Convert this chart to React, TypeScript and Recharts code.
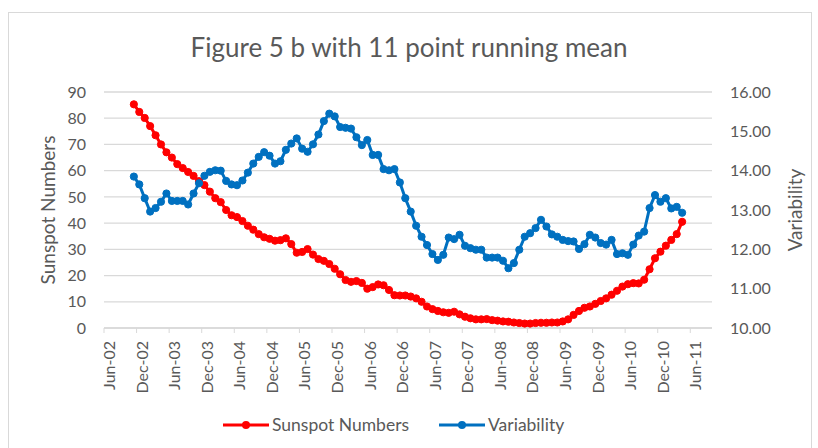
import React from 'react';
import {
  LineChart,
  Line,
  XAxis,
  YAxis,
  CartesianGrid,
} from 'recharts';

// x ticks: every 6 months starting Jun-02 (index 0 = Jun-02)
const tickLabels = [
  'Jun-02', 'Dec-02', 'Jun-03', 'Dec-03', 'Jun-04', 'Dec-04', 'Jun-05', 'Dec-05', 'Jun-06', 'Dec-06',
  'Jun-07', 'Dec-07', 'Jun-08', 'Dec-08', 'Jun-09', 'Dec-09', 'Jun-10', 'Dec-10', 'Jun-11',
];

// first point is mid Nov-02, monthly after that
const START_MONTH = 5.5;

const sunspotNumbers = [
  85.3, 82.4, 80.1, 77.0, 73.5, 70.0, 67.0, 65.0, 62.5, 61.0,
  59.5, 58.0, 56.0, 54.5, 52.0, 49.5, 48.0, 45.0, 43.0, 42.3,
  40.8, 39.0, 37.5, 35.8, 34.6, 34.0, 33.3, 33.5, 34.2, 32.0,
  28.7, 29.0, 30.1, 28.0, 26.3, 25.6, 24.4, 22.6, 20.5, 18.3,
  17.6, 17.9, 17.2, 15.0, 15.6, 16.6, 16.3, 14.5, 12.5, 12.4,
  12.4, 12.0, 11.3, 10.0, 8.2, 7.2, 6.5, 6.0, 5.8, 6.2,
  5.2, 4.3, 3.7, 3.3, 3.3, 3.4, 3.0, 2.8, 2.5, 2.4,
  2.1, 1.9, 1.7, 1.7, 1.9, 2.0, 2.0, 2.1, 2.1, 2.5,
  3.3, 5.0, 6.5, 7.7, 8.2, 9.2, 10.3, 11.3, 12.7, 14.2,
  15.8, 16.7, 17.1, 17.0, 18.4, 22.4, 26.6, 29.1, 31.4, 33.6,
  35.8, 40.5,
];

const variability = [
  13.85, 13.65, 13.30, 12.96, 13.05, 13.21, 13.42, 13.23, 13.23, 13.23,
  13.14, 13.42, 13.68, 13.87, 13.97, 14.01, 14.00, 13.74, 13.65, 13.63,
  13.75, 13.95, 14.18, 14.35, 14.47, 14.38, 14.18, 14.24, 14.53, 14.69,
  14.82, 14.56, 14.48, 14.67, 14.92, 15.26, 15.45, 15.38, 15.11, 15.09,
  15.07, 14.85, 14.65, 14.78, 14.40, 14.40, 14.04, 14.01, 14.04, 13.70,
  13.30, 12.96, 12.60, 12.32, 12.11, 11.88, 11.73, 11.86, 12.30, 12.26,
  12.37, 12.09, 12.03, 11.99, 11.99, 11.79, 11.79, 11.79, 11.71, 11.52,
  11.65, 11.99, 12.32, 12.41, 12.54, 12.75, 12.58, 12.38, 12.32, 12.24,
  12.21, 12.20, 12.01, 12.13, 12.37, 12.30, 12.16, 12.12, 12.24, 11.88,
  11.90, 11.86, 12.12, 12.35, 12.45, 13.05, 13.38, 13.21, 13.30, 13.04,
  13.08, 12.93,
];

const leftTicks = [0, 10, 20, 30, 40, 50, 60, 70, 80, 90];
const rightTicks = [10, 11, 12, 13, 14, 15, 16];

const RED = '#ff0000';
const BLUE = '#0070c0';
const TEXT = '#595959';
const GRID = '#d9d9d9';
const FONT = 'Lato, "Open Sans", sans-serif';

const data = sunspotNumbers.map((s, i) => ({
  m: START_MONTH + i,
  sunspot: s,
  variability: variability[i],
}));

const xTicks = tickLabels.map((_, i) => i * 6);

function DateTick(props: any) {
  const { x, y, payload } = props;
  const label = tickLabels[Math.round(payload.value / 6)] ?? '';
  return (
    <text
      x={x}
      y={y + 6}
      transform={`rotate(-90, ${x}, ${y + 6})`}
      textAnchor="end"
      fill={TEXT}
      fontSize={16}
      fontFamily={FONT}
    >
      <tspan dy="11">{label}</tspan>
    </text>
  );
}

function LegendItem({ color, label }: { color: string; label: string }) {
  return (
    <div style={{ display: 'flex', alignItems: 'center' }}>
      <svg width={46} height={12}>
        <line x1={0} y1={6} x2={46} y2={6} stroke={color} strokeWidth={3} />
        <circle cx={23} cy={6} r={4} fill={color} />
      </svg>
      <span style={{ marginLeft: 3, fontSize: 17.5, color: TEXT }}>{label}</span>
    </div>
  );
}

export default function App() {
  return (
    <div
      style={{
        position: 'absolute',
        left: 0,
        top: 0,
        width: 818,
        height: 448,
        background: '#fff',
        fontFamily: FONT,
        overflow: 'hidden',
      }}
    >
      <div
        style={{
          position: 'absolute',
          left: 8,
          top: 12,
          width: 802,
          height: 460,
          border: `1px solid ${GRID}`,
        }}
      />
      <div
        style={{
          position: 'absolute',
          left: 0,
          width: 818,
          top: 31,
          textAlign: 'center',
          fontSize: 26,
          color: TEXT,
          lineHeight: '32px',
        }}
      >
        Figure 5 b with 11 point running mean
      </div>

      <LineChart
        width={818}
        height={448}
        data={data}
        margin={{ top: 92, right: 0, bottom: 0, left: 0 }}
        style={{ position: 'absolute', left: 0, top: 0 }}
      >
        <CartesianGrid yAxisId="left" vertical={false} stroke={GRID} strokeWidth={1.3} />
        <XAxis
          dataKey="m"
          type="number"
          domain={[0, 112]}
          ticks={xTicks}
          interval={0}
          height={120}
          stroke={GRID}
          tickSize={5}
          tick={<DateTick />}
          axisLine={{ stroke: GRID, strokeWidth: 1.3 }}
          tickLine={{ stroke: GRID }}
        />
        <YAxis
          yAxisId="left"
          width={104}
          domain={[0, 90]}
          ticks={leftTicks}
          axisLine={false}
          tickLine={false}
          tickSize={6}
          tickMargin={12}
          tick={{ fill: TEXT, fontSize: 16, fontFamily: FONT }}
          label={{
            value: 'Sunspot Numbers',
            angle: -90,
            position: 'center',
            dx: -4,
            style: { fill: TEXT, fontSize: 19, fontFamily: FONT },
          }}
        />
        <YAxis
          yAxisId="right"
          orientation="right"
          width={106}
          domain={[10, 16]}
          ticks={rightTicks}
          axisLine={false}
          tickLine={false}
          tickSize={6}
          tickMargin={12}
          tickFormatter={(v: number) => v.toFixed(2)}
          tick={{ fill: TEXT, fontSize: 16, fontFamily: FONT }}
          label={{
            value: 'Variability',
            angle: -90,
            position: 'center',
            dx: 30,
            style: { fill: TEXT, fontSize: 19, fontFamily: FONT },
          }}
        />
        <Line
          yAxisId="left"
          dataKey="sunspot"
          stroke={RED}
          strokeWidth={3}
          dot={{ r: 3.6, fill: RED, stroke: RED, strokeWidth: 1 }}
          isAnimationActive={false}
        />
        <Line
          yAxisId="right"
          dataKey="variability"
          stroke={BLUE}
          strokeWidth={3}
          dot={{ r: 3.6, fill: BLUE, stroke: BLUE, strokeWidth: 1 }}
          isAnimationActive={false}
        />
      </LineChart>

      <div style={{ position: 'absolute', left: 223, top: 414, display: 'flex', gap: 30 }}>
        <LegendItem color={RED} label="Sunspot Numbers" />
        <LegendItem color={BLUE} label="Variability" />
      </div>
    </div>
  );
}
